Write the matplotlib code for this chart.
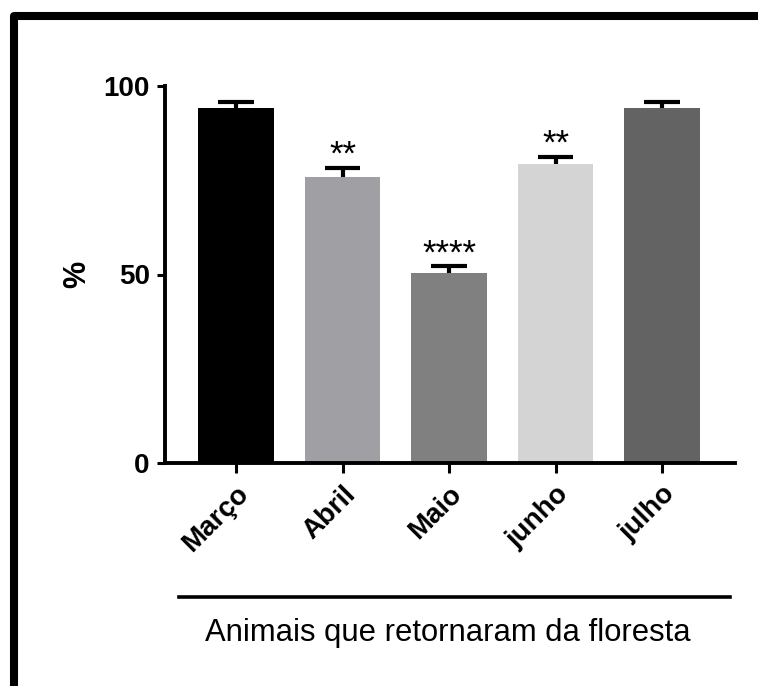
import numpy as np
import matplotlib
matplotlib.use("Agg")
import matplotlib.pyplot as plt
from matplotlib.lines import Line2D

plt.rcParams['font.family'] = ['Liberation Sans', 'DejaVu Sans']

# data
meses = ['Março', 'Abril', 'Maio', 'junho', 'julho']
media = [94.1, 75.8, 50.4, 79.3, 94.1]
erro = [1.6, 2.5, 1.8, 1.9, 1.6]
signif = ['', '**', '****', '**', '']
cores = ['#000000', '#a0a0a4', '#808080', '#d4d4d4', '#636363']
yticks = [0, 50, 100]

fig = plt.figure(figsize=(7.58, 6.86), dpi=100)
ax = fig.add_axes([165/758, 1 - 463/686, 570/758, 377/686])

x = np.arange(len(meses))
ax.bar(x, media, width=0.71, color=cores, zorder=2)
ax.errorbar(x, media, yerr=[np.zeros(len(x)), erro], fmt='none',
            ecolor='black', elinewidth=3, capsize=0, zorder=1)
topo = np.array(media) + np.array(erro)
ax.hlines(topo, x - 0.165, x + 0.165, colors='black', linewidth=3, zorder=3)

for xi, t, s in zip(x, topo, signif):
    if s:
        ax.annotate(s, (xi, t), xytext=(0, 2), textcoords='offset points',
                    ha='center', va='baseline', fontsize=25)

ax.set_xlim(-0.667, 4.685)
ax.set_ylim(0, 100)
ax.set_yticks(yticks)
ax.set_yticklabels([str(v) for v in yticks], fontsize=20, fontweight='bold')
ax.set_xticks(x)
ax.set_xticklabels(meses, fontsize=20, fontweight='bold', rotation=45,
                   ha='right', va='top', rotation_mode='anchor')

for side in ['top', 'right']:
    ax.spines[side].set_visible(False)
for side in ['left', 'bottom']:
    ax.spines[side].set_linewidth(2.8)
ax.tick_params(axis='y', length=6, width=2.2, pad=5)
ax.tick_params(axis='x', length=7, width=2.2, pad=6)
ax.set_ylabel('%', fontsize=22, fontweight='bold', labelpad=8)

# group line and label below the categories
ax.plot([0.025, 0.991], [-0.355, -0.355], color='black', lw=2.6,
        transform=ax.transAxes, clip_on=False)
ax.text(0.4956, -0.472, 'Animais que retornaram da floresta', ha='center',
        va='baseline', fontsize=22.3, transform=ax.transAxes)

# thick frame on top and left edge
fig.add_artist(Line2D([14/758, 14/758, 1.01], [-0.01, 1 - 16/686, 1 - 16/686],
                      transform=fig.transFigure, color='black', lw=5.8,
                      solid_joinstyle='round'))

fig.savefig('out.png', dpi=100)
